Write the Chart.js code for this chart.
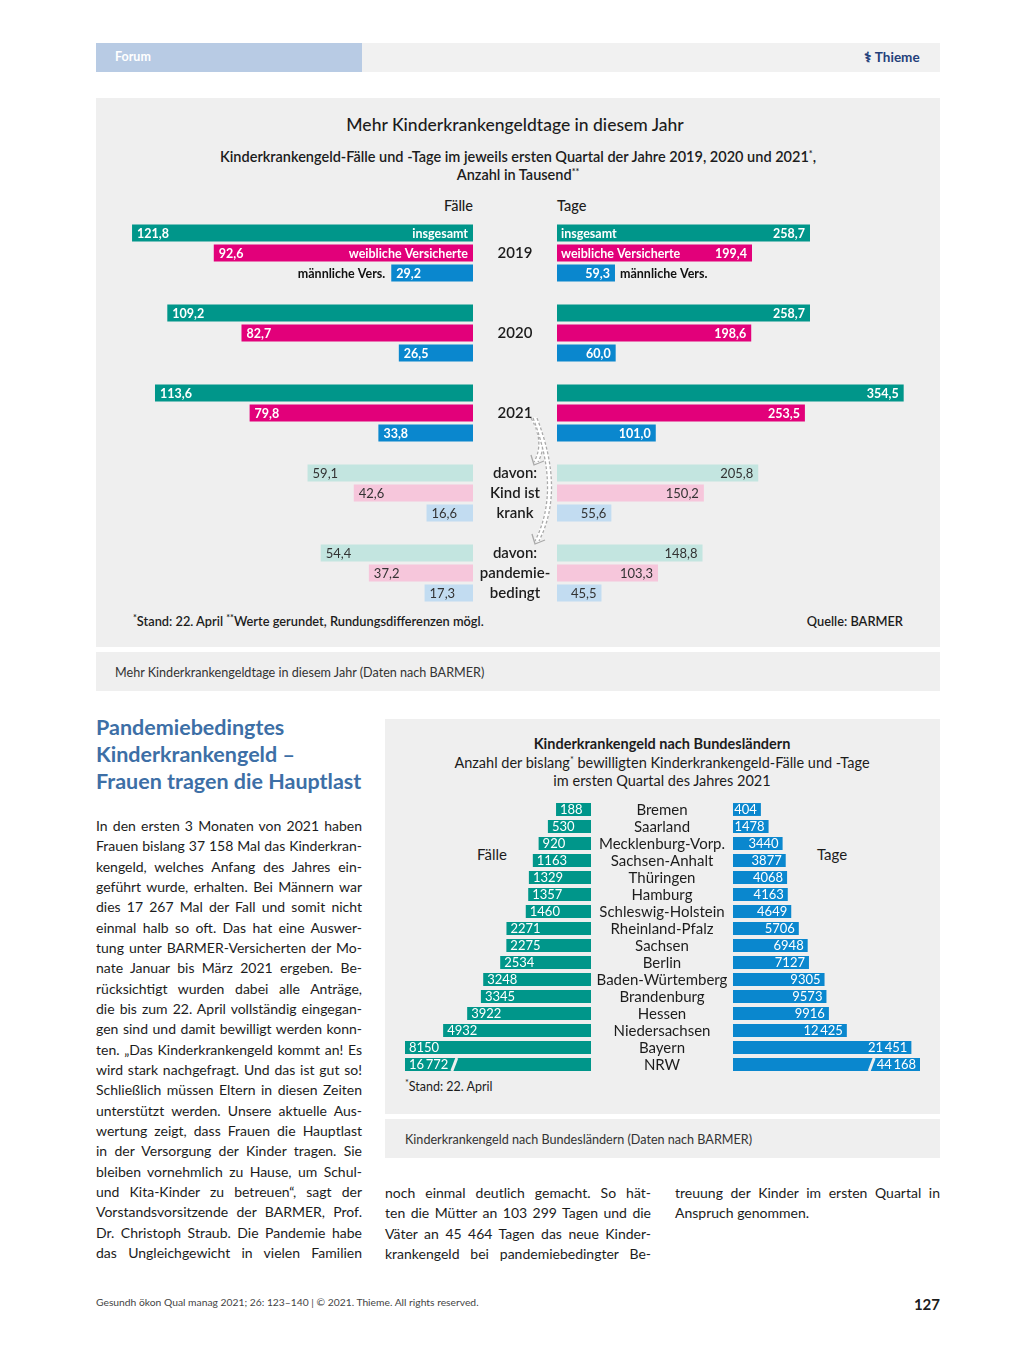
<!DOCTYPE html>
<html>
<head>
<meta charset="utf-8">
<script src="https://cdn.jsdelivr.net/npm/chart.js@4.4.1/dist/chart.umd.min.js"></script>
<style>
  body { margin: 0; background: #fff; font-family: Lato, "Open Sans", sans-serif; color: #1c1c1c; }
  #page { position: relative; width: 1013px; height: 1350px; overflow: hidden; }
  .box { position: absolute; background: #efefef; }
  .t { position: absolute; white-space: nowrap; line-height: 20px; }
  .st { font-size: 9px; position: relative; top: -5px; }
  .cv { position: absolute; }
  .col { position: absolute; font-size: 14px; line-height: 20.33px; }
  .col div { text-align: justify; text-align-last: justify; white-space: nowrap; }
  .col div.end { text-align-last: left; }
</style>
</head>
<body>
<div id="page">
  <!-- Kopfzeile -->
  <div class="box" style="left:96px;top:43px;width:266px;height:29px;background:#b8cbe4"></div>
  <div class="box" style="left:362px;top:43px;width:578px;height:29px;background:#f1f1f1"></div>
  <div class="t" style="left:115px;top:47px;color:#fff;font-weight:700;font-size:12.5px">Forum</div>
  <div class="t" style="left:864px;top:47px;color:#24407a;font-weight:700;font-size:13.5px">&#9877; Thieme</div>

  <!-- Abbildung 1 -->
  <div class="box" style="left:96px;top:98px;width:844px;height:549px"></div>
  <div class="t" style="left:215px;width:600px;top:115px;text-align:center;font-size:17.5px;font-weight:500">Mehr Kinderkrankengeldtage in diesem Jahr</div>
  <div class="t" style="left:118px;width:800px;top:147px;text-align:center;font-size:14.5px;font-weight:600">Kinderkrankengeld-Fälle und -Tage im jeweils ersten Quartal der Jahre 2019, 2020 und 2021<span class="st">*</span>,</div>
  <div class="t" style="left:118px;width:800px;top:165px;text-align:center;font-size:14.5px;font-weight:600">Anzahl in Tausend<span class="st">**</span></div>
  <div class="t" style="left:373px;width:100px;top:196px;text-align:right;font-size:14.5px;font-weight:500">Fälle</div>
  <div class="t" style="left:557px;top:196px;font-size:14.5px;font-weight:500">Tage</div>
  <div class="cv" style="left:113px;top:223px;width:360px;height:380px"><canvas id="c1l"></canvas></div>
  <div class="cv" style="left:473px;top:223px;width:452px;height:380px"><canvas id="c1r"></canvas></div>
  <div class="t" style="left:133px;top:611px;font-size:12.8px;font-weight:600"><span class="st">*</span>Stand: 22. April <span class="st">**</span>Werte gerundet, Rundungsdifferenzen mögl.</div>
  <div class="t" style="left:703px;width:200px;top:611px;text-align:right;font-size:12.8px;font-weight:600">Quelle: BARMER</div>

  <div class="box" style="left:96px;top:652px;width:844px;height:39px"></div>
  <div class="t" style="left:115px;top:663px;font-size:12.6px;color:#333">Mehr Kinderkrankengeldtage in diesem Jahr (Daten nach BARMER)</div>

  <!-- Überschrift -->
  <div class="t" style="left:96px;top:714px;font-size:21.5px;line-height:27px;font-weight:700;color:#3d6fa6">Pandemiebedingtes<br>Kinderkrankengeld –<br>Frauen tragen die Hauptlast</div>

  <!-- Abbildung 2 -->
  <div class="box" style="left:385px;top:719px;width:555px;height:395px"></div>
  <div class="t" style="left:412px;width:500px;top:734px;text-align:center;font-size:14.5px;font-weight:700">Kinderkrankengeld nach Bundesländern</div>
  <div class="t" style="left:412px;width:500px;top:753px;text-align:center;font-size:14.5px">Anzahl der bislang<span class="st">*</span> bewilligten Kinderkrankengeld-Fälle und -Tage</div>
  <div class="t" style="left:412px;width:500px;top:771px;text-align:center;font-size:14.5px">im ersten Quartal des Jahres 2021</div>
  <div class="t" style="left:442px;width:100px;top:844px;text-align:center;font-size:15px">Fälle</div>
  <div class="t" style="left:782px;width:100px;top:844px;text-align:center;font-size:15px">Tage</div>
  <div class="cv" style="left:405px;top:801px;width:186px;height:272px"><canvas id="c2l"></canvas></div>
  <div class="cv" style="left:591px;top:801px;width:329px;height:272px"><canvas id="c2r"></canvas></div>
  <div class="t" style="left:405px;top:1077px;font-size:12.5px"><span class="st">*</span>Stand: 22. April</div>

  <div class="box" style="left:385px;top:1119px;width:555px;height:39px"></div>
  <div class="t" style="left:405px;top:1130px;font-size:12.6px;color:#333">Kinderkrankengeld nach Bundesländern (Daten nach BARMER)</div>

  <!-- Fließtext -->
  <div class="col" style="left:96px;top:816px;width:266px">
    <div>In den ersten 3 Monaten von 2021 haben</div>
    <div>Frauen bislang 37 158 Mal das Kinderkran-</div>
    <div>kengeld, welches Anfang des Jahres ein-</div>
    <div>geführt wurde, erhalten. Bei Männern war</div>
    <div>dies 17 267 Mal der Fall und somit nicht</div>
    <div>einmal halb so oft. Das hat eine Auswer-</div>
    <div>tung unter BARMER-Versicherten der Mo-</div>
    <div>nate Januar bis März 2021 ergeben. Be-</div>
    <div>rücksichtigt wurden dabei alle Anträge,</div>
    <div>die bis zum 22. April vollständig eingegan-</div>
    <div>gen sind und damit bewilligt werden konn-</div>
    <div>ten. „Das Kinderkrankengeld kommt an! Es</div>
    <div>wird stark nachgefragt. Und das ist gut so!</div>
    <div>Schließlich müssen Eltern in diesen Zeiten</div>
    <div>unterstützt werden. Unsere aktuelle Aus-</div>
    <div>wertung zeigt, dass Frauen die Hauptlast</div>
    <div>in der Versorgung der Kinder tragen. Sie</div>
    <div>bleiben vornehmlich zu Hause, um Schul-</div>
    <div>und Kita-Kinder zu betreuen“, sagt der</div>
    <div>Vorstandsvorsitzende der BARMER, Prof.</div>
    <div>Dr. Christoph Straub. Die Pandemie habe</div>
    <div>das Ungleichgewicht in vielen Familien</div>
  </div>
  <div class="col" style="left:385px;top:1183px;width:266px">
    <div>noch einmal deutlich gemacht. So hät-</div>
    <div>ten die Mütter an 103 299 Tagen und die</div>
    <div>Väter an 45 464 Tagen das neue Kinder-</div>
    <div>krankengeld bei pandemiebedingter Be-</div>
  </div>
  <div class="col" style="left:675px;top:1183px;width:265px">
    <div>treuung der Kinder im ersten Quartal in</div>
    <div class="end">Anspruch genommen.</div>
  </div>

  <!-- Fußzeile -->
  <div class="t" style="left:96px;top:1292px;font-size:10.3px;color:#444">Gesundh ökon Qual manag 2021; 26: 123–140 | © 2021. Thieme. All rights reserved.</div>
  <div class="t" style="left:840px;width:100px;top:1294px;text-align:right;font-size:15px;font-weight:700">127</div>
</div>

<script>
// Abbildung 1: Fälle und Tage (in Tausend), erstes Quartal
const years = ['2019', '2020', '2021'];
const faelleGesamt = [121.8, 109.2, 113.6];
const faelleWeiblich = [92.6, 82.7, 79.8];
const faelleMaennlich = [29.2, 26.5, 33.8];
const tageGesamt = [258.7, 258.7, 354.5];
const tageWeiblich = [199.4, 198.6, 253.5];
const tageMaennlich = [59.3, 60.0, 101.0];
const davonLabels = [['davon:', 'Kind ist', 'krank'], ['davon:', 'pandemie-', 'bedingt']];
const davonFaelle = [[59.1, 42.6, 16.6], [54.4, 37.2, 17.3]];
const davonTage = [[205.8, 150.2, 55.6], [148.8, 103.3, 45.5]];
const reihen = ['insgesamt', 'weibliche Versicherte', 'männliche Vers.'];

// Abbildung 2: Bundesländer 2021
const laender = ['Bremen', 'Saarland', 'Mecklenburg-Vorp.', 'Sachsen-Anhalt', 'Thüringen', 'Hamburg',
  'Schleswig-Holstein', 'Rheinland-Pfalz', 'Sachsen', 'Berlin', 'Baden-Würtemberg', 'Brandenburg',
  'Hessen', 'Niedersachsen', 'Bayern', 'NRW'];
const laenderFaelle = [188, 530, 920, 1163, 1329, 1357, 1460, 2271, 2275, 2534, 3248, 3345, 3922, 4932, 8150, 16772];
const laenderTage = [404, 1478, 3440, 3877, 4068, 4163, 4649, 5706, 6948, 7127, 9305, 9573, 9916, 12425, 21451, 44168];
const gebrocheneBalken = ['NRW'];

const dunkel = ['#00968a', '#e2007a', '#0a87ce'];
const hell = ['#c3e5e0', '#f6c6db', '#c2dcf1'];
const FONT = 'Lato, "Open Sans", sans-serif';

function buildRows(gesamt, weiblich, maennlich, davon) {
  const values = [], labels = [], colors = [], info = [];
  years.forEach((y, g) => {
    [gesamt[g], weiblich[g], maennlich[g]].forEach((v, r) => {
      values.push(v); labels.push(r === 1 ? y : ''); colors.push(dunkel[r]);
      info.push({ tone: 'dark', serie: r, first: g === 0 });
    });
    values.push(null); labels.push(''); colors.push('transparent'); info.push(null);
  });
  davon.forEach((grp, d) => {
    grp.forEach((v, r) => {
      values.push(v); labels.push(davonLabels[d][r]); colors.push(hell[r]);
      info.push({ tone: 'light', serie: r, first: false });
    });
    if (d < davon.length - 1) { values.push(null); labels.push(''); colors.push('transparent'); info.push(null); }
  });
  return { values, labels, colors, info };
}

const rowsF = buildRows(faelleGesamt, faelleWeiblich, faelleMaennlich, davonFaelle);
const rowsT = buildRows(tageGesamt, tageWeiblich, tageMaennlich, davonTage);

const fmt1 = v => v.toFixed(1).replace('.', ',');
const fmtInt = v => v >= 10000 ? String(v).replace(/(\d{3})$/, '\u2009$1') : String(v);

function baseOptions(reverse, min, max, padLeft) {
  return {
    indexAxis: 'y',
    responsive: true,
    maintainAspectRatio: false,
    animation: false,
    layout: { padding: { left: padLeft, right: 0, top: 0, bottom: 0 } },
    plugins: { legend: { display: false }, tooltip: { enabled: false } },
    scales: {
      x: { type: 'linear', display: false, reverse: reverse, min: min, max: max },
      y: { type: 'category', display: false }
    }
  };
}

// Beschriftung Abbildung 1
function labels1(side) {
  return {
    id: 'labels1' + side,
    afterDatasetsDraw(chart) {
      const ctx = chart.ctx;
      const rows = side === 'left' ? rowsF : rowsT;
      const meta = chart.getDatasetMeta(0);
      ctx.save();
      ctx.textBaseline = 'middle';
      meta.data.forEach((bar, i) => {
        const inf = rows.info[i];
        if (!inf) return;
        const v = rows.values[i];
        const y = bar.y + 0.5;
        if (inf.tone === 'dark') {
          ctx.fillStyle = '#fff';
          ctx.font = '700 12.5px ' + FONT;
          if (side === 'left') { ctx.textAlign = 'left'; ctx.fillText(fmt1(v), bar.x + 5, y); }
          else { ctx.textAlign = 'right'; ctx.fillText(fmt1(v), bar.x - 5, y); }
          if (inf.first) {
            if (inf.serie < 2) {
              if (side === 'left') { ctx.textAlign = 'right'; ctx.fillText(reihen[inf.serie], bar.base - 5, y); }
              else { ctx.textAlign = 'left'; ctx.fillText(reihen[inf.serie], bar.base + 4, y); }
            } else {
              ctx.fillStyle = '#111';
              if (side === 'left') { ctx.textAlign = 'right'; ctx.fillText(reihen[2], bar.x - 6, y); }
              else { ctx.textAlign = 'left'; ctx.fillText(reihen[2], bar.x + 5, y); }
            }
          }
        } else {
          ctx.fillStyle = '#333';
          ctx.font = '400 13px ' + FONT;
          if (side === 'left') { ctx.textAlign = 'left'; ctx.fillText(fmt1(v), bar.x + 5, y); }
          else { ctx.textAlign = 'right'; ctx.fillText(fmt1(v), bar.x - 5, y); }
        }
      });
      if (side === 'right') {
        const ys = chart.scales.y;
        const cx = chart.chartArea.left - 42;
        ctx.fillStyle = '#1c1c1c';
        ctx.font = '600 15px ' + FONT;
        ctx.textAlign = 'center';
        rows.labels.forEach((l, i) => { if (l) ctx.fillText(l, cx, ys.getPixelForValue(i) + 0.5); });

        // gestrichelte Pfeile von 2021 zu den "davon"-Gruppen
        const x0 = chart.chartArea.left - 24;
        const yA = ys.getPixelForValue(9) + 5;
        const arrows = [
          { sx: x0, cx: x0 + 14, cy: yA + 24, ex: x0 + 3, ey: ys.getPixelForValue(11) + 9 },
          { sx: x0 + 2, cx: x0 + 30, cy: yA + 72, ex: x0 + 4, ey: ys.getPixelForValue(15) + 8 }
        ];
        arrows.forEach(a => {
          ctx.beginPath();
          ctx.moveTo(a.sx, yA);
          ctx.quadraticCurveTo(a.cx, a.cy, a.ex, a.ey);
          ctx.strokeStyle = '#fff'; ctx.lineWidth = 5; ctx.setLineDash([]); ctx.stroke();
          ctx.strokeStyle = '#a9a9a9'; ctx.lineWidth = 1.3; ctx.setLineDash([3, 2]);
          [-2, 2].forEach(off => {
            ctx.beginPath();
            ctx.moveTo(a.sx + off, yA);
            ctx.quadraticCurveTo(a.cx + off, a.cy, a.ex + off, a.ey);
            ctx.stroke();
          });
          ctx.setLineDash([]);
          ctx.beginPath();
          ctx.moveTo(a.ex - 5, a.ey - 7);
          ctx.lineTo(a.ex - 2, a.ey + 3);
          ctx.lineTo(a.ex + 8, a.ey - 1);
          ctx.strokeStyle = '#a9a9a9'; ctx.lineWidth = 1.3; ctx.stroke();
        });
      }
      ctx.restore();
    }
  };
}

new Chart(document.getElementById('c1l'), {
  type: 'bar',
  data: {
    labels: rowsF.labels,
    datasets: [{ data: rowsF.values, backgroundColor: rowsF.colors, borderWidth: 0, barPercentage: 0.85, categoryPercentage: 1 }]
  },
  options: baseOptions(true, 0, 128.6, 0),
  plugins: [labels1('left')]
});

new Chart(document.getElementById('c1r'), {
  type: 'bar',
  data: {
    labels: rowsT.labels,
    datasets: [{ data: rowsT.values, backgroundColor: rowsT.colors, borderWidth: 0, barPercentage: 0.85, categoryPercentage: 1 }]
  },
  options: baseOptions(false, 0, 376.3, 84),
  plugins: [labels1('right')]
});

// Beschriftung Abbildung 2
function labels2(side) {
  return {
    id: 'labels2' + side,
    afterDatasetsDraw(chart) {
      const ctx = chart.ctx;
      const area = chart.chartArea;
      const vals = side === 'left' ? laenderFaelle : laenderTage;
      const meta = chart.getDatasetMeta(0);
      ctx.save();
      ctx.textBaseline = 'middle';
      ctx.font = '400 13px ' + FONT;
      ctx.fillStyle = '#fff';
      meta.data.forEach((bar, i) => {
        const txt = fmtInt(vals[i]);
        const w = ctx.measureText(txt).width;
        const x = Math.max(area.left, Math.min(area.right, bar.x));
        const y = bar.y + 0.5;
        let slash = null;
        if (side === 'left') {
          ctx.textAlign = 'left'; ctx.fillText(txt, x + 4, y);
          slash = x + 4 + w + 6;
        } else {
          ctx.textAlign = 'right'; ctx.fillText(txt, x - 4, y);
          slash = x - 4 - w - 5;
        }
        if (gebrocheneBalken.includes(laender[i])) {
          ctx.beginPath();
          ctx.moveTo(slash - 2.5, bar.y + bar.height / 2);
          ctx.lineTo(slash + 2.5, bar.y - bar.height / 2);
          ctx.strokeStyle = '#efefef'; ctx.lineWidth = 3; ctx.stroke();
        }
      });
      if (side === 'right') {
        const ys = chart.scales.y;
        ctx.fillStyle = '#1c1c1c';
        ctx.font = '400 15px ' + FONT;
        ctx.textAlign = 'center';
        laender.forEach((l, i) => ctx.fillText(l, area.left - 71, ys.getPixelForValue(i) + 0.5));
      }
      ctx.restore();
    }
  };
}

new Chart(document.getElementById('c2l'), {
  type: 'bar',
  data: {
    labels: laender,
    datasets: [{ data: laenderFaelle, base: -1281, backgroundColor: '#00968a', borderWidth: 0, barPercentage: 0.76, categoryPercentage: 1 }]
  },
  options: baseOptions(true, -1281, 6534, 0),
  plugins: [labels2('left')]
});

new Chart(document.getElementById('c2r'), {
  type: 'bar',
  data: {
    labels: laender,
    datasets: [{ data: laenderTage, base: -3497, backgroundColor: '#0a87ce', borderWidth: 0, barPercentage: 0.76, categoryPercentage: 1 }]
  },
  options: baseOptions(false, -3497, 22657, 142),
  plugins: [labels2('right')]
});
</script>
</body>
</html>
